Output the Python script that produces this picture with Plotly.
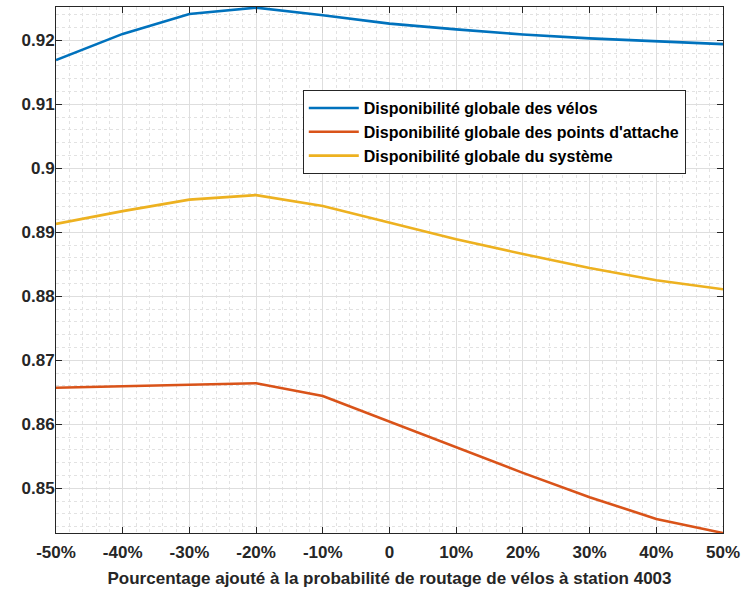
import plotly.graph_objects as go

# pourcentage ajouté (x)
x_pct = [-50, -40, -30, -20, -10, 0, 10, 20, 30, 40, 50]
x_ticktext = ['-50%', '-40%', '-30%', '-20%', '-10%', '0', '10%', '20%', '30%', '40%', '50%']

dispo_velos = [0.9169, 0.9210, 0.9241, 0.9251, 0.9239, 0.9226, 0.9217, 0.9209, 0.9203, 0.9198, 0.9194]
dispo_points = [0.8657, 0.8659, 0.8662, 0.8664, 0.8644, 0.8604, 0.8565, 0.8524, 0.8486, 0.8452, 0.8430]
dispo_systeme = [0.8913, 0.8933, 0.8951, 0.8958, 0.8941, 0.8915, 0.8889, 0.8866, 0.8844, 0.8825, 0.8811]

y_tickvals = [0.85, 0.86, 0.87, 0.88, 0.89, 0.90, 0.91, 0.92]
y_ticktext = ['0.85', '0.86', '0.87', '0.88', '0.89', '0.9', '0.91', '0.92']

series = [
    ('Disponibilité globale des vélos', dispo_velos, '#0072BD'),
    ("Disponibilité globale des points d'attache", dispo_points, '#D95319'),
    ('Disponibilité globale du système', dispo_systeme, '#EDB120'),
]

fig = go.Figure()
for name, vals, col in series:
    fig.add_trace(go.Scatter(x=x_pct, y=vals, mode='lines', name=name,
                             line=dict(color=col, width=2.6)))

axis_common = dict(
    showline=True, linecolor='#262626', linewidth=1, mirror='ticks',
    ticks='inside', ticklen=6, tickcolor='#262626', automargin=False,
    showgrid=True, gridcolor='#dedede', gridwidth=1, zeroline=False,
    tickfont=dict(family='Liberation Sans, Arial', size=17, color='#262626', weight='bold'),
)
minor_grid = dict(showgrid=True, griddash='dot', gridcolor='#e2e2e2', ticks='')

fig.update_xaxes(**axis_common, range=[-50, 50], tickvals=x_pct, ticktext=x_ticktext,
                 minor=dict(dtick=2, **minor_grid), ticklabelstandoff=4,
                 title=dict(text='Pourcentage ajouté à la probabilité de routage de vélos à station 4003',
                            font=dict(family='Liberation Sans, Arial', size=17, color='#262626', weight='bold'),
                            standoff=10))
fig.update_yaxes(**axis_common, range=[0.8430, 0.9252], tickvals=y_tickvals, ticktext=y_ticktext,
                 minor=dict(dtick=0.002, **minor_grid), ticklabelstandoff=-3)

fig.update_layout(
    width=741, height=589,
    margin=dict(l=56, r=18, t=7, b=56),
    paper_bgcolor='white', plot_bgcolor='white',
    legend=dict(x=0.370, y=0.842, xanchor='left', yanchor='top',
                bgcolor='white', bordercolor='#262626', borderwidth=1,
                font=dict(family='Liberation Sans, Arial', size=16, color='black', weight='bold'),
                tracegroupgap=0, itemwidth=50),
    showlegend=True,
)

fig.write_html('out.html', config={'displayModeBar': False},
               post_script="document.body.style.margin='0';")
